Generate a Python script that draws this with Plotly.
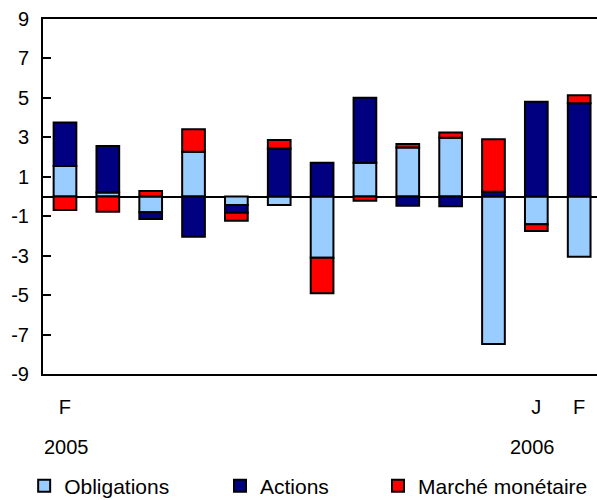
import plotly.graph_objects as go

months = ["F", "M", "A", "M", "J", "J", "A", "S", "O", "N", "D", "J", "F"]
years = ["2005", "", "", "", "", "", "", "", "", "", "", "2006", ""]
tick_labels = ["F", "", "", "", "", "", "", "", "", "", "", "J", "F"]

obligations = [1.55, 0.20, -0.80, 2.27, -0.43, -0.43, -3.10, 1.71, 2.49, 2.98, -7.48, -1.41, -3.05]
actions = [2.20, 2.36, -0.34, -2.04, -0.39, 2.44, 1.71, 3.30, -0.47, -0.50, 0.24, 4.81, 4.73]
marche = [-0.68, -0.77, 0.28, 1.14, -0.41, 0.43, -1.81, -0.21, 0.17, 0.27, 2.66, -0.34, 0.40]

y_ticks = [9, 7, 5, 3, 1, -1, -3, -5, -7, -9]

x = list(range(len(months)))
FONT = "Liberation Sans, Arial, sans-serif"

fig = go.Figure()
series = [
    ("Obligations", obligations, "#99CCFF", "legend"),
    ("Actions", actions, "#000080", "legend2"),
    ("Marché monétaire", marche, "#FF0000", "legend3"),
]
for name, vals, col, lg in series:
    fig.add_trace(go.Bar(
        x=x, y=vals, name=name, legend=lg, showlegend=True,
        marker=dict(color=col, line=dict(color="black", width=2)),
        width=0.53,
    ))

keep = [i for i, t in enumerate(tick_labels) if t]
ann = []
for i, yl in enumerate(years):
    if yl:
        ann.append(dict(x=i, y=-0.206, xref="x", yref="paper", text=yl,
                        showarrow=False, yanchor="middle", xanchor="center",
                        xshift=2 if i == 0 else -4,
                        font=dict(size=20, color="black", family=FONT)))

legend_common = dict(orientation="h", yanchor="middle", y=-0.316, xanchor="left",
                     font=dict(size=21, color="black", family=FONT),
                     bgcolor="rgba(0,0,0,0)", borderwidth=0, itemclick=False)

fig.update_layout(
    width=597, height=530, autosize=False,
    margin=dict(l=43, r=0, t=19, b=156),
    barmode="relative",
    showlegend=True,
    plot_bgcolor="white", paper_bgcolor="white",
    font=dict(family=FONT, size=20, color="black"),
    annotations=ann,
    legend=dict(x=-0.034, **legend_common),
    legend2=dict(x=0.3195, **legend_common),
    legend3=dict(x=0.6047, **legend_common),
)
fig.update_xaxes(
    range=[-0.513, 12.416],
    tickvals=[x[i] for i in keep], ticktext=[tick_labels[i] for i in keep],
    ticks="", showgrid=False, zeroline=False,
    showline=True, linecolor="black", linewidth=2, mirror=True,
    ticklabelstandoff=14,
    tickfont=dict(size=20, color="black", family=FONT),
)
fig.update_yaxes(
    range=[-9, 9], tickvals=y_ticks, ticktext=[str(v) for v in y_ticks],
    ticks="inside", ticklen=8, tickwidth=2, tickcolor="black",
    showgrid=False, zeroline=True, zerolinecolor="black", zerolinewidth=2,
    showline=True, linecolor="black", linewidth=2, mirror=False,
    ticklabelstandoff=8,
    tickfont=dict(size=20, color="black", family=FONT),
)

fig.write_html("out.html", config={"displayModeBar": False},
               post_script="document.body.style.margin='0';document.body.style.overflow='hidden';")
